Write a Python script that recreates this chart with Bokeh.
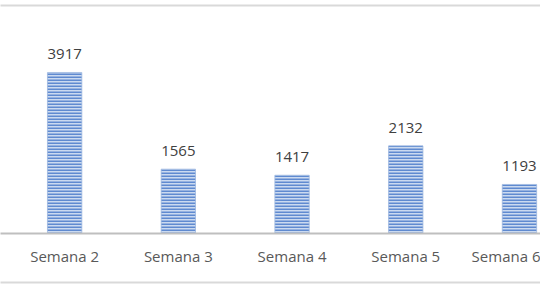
from bokeh.plotting import figure
from bokeh.models import Range1d, FixedTicker, LinearAxis, ColumnDataSource
from bokeh.core.properties import value
from bokeh.embed import file_html
from bokeh.resources import INLINE

categories = ["Semana 2", "Semana 3", "Semana 4", "Semana 5", "Semana 6"]
values = [3917, 1565, 1417, 2132, 1193]

xs = list(range(len(categories)))
src = ColumnDataSource(dict(x=xs, top=values, label=[str(v) for v in values]))

p = figure(width=540, height=287, output_backend="svg", toolbar_location=None,
           x_range=Range1d(-0.564, 4.185), y_range=Range1d(0, 5547),
           x_axis_location=None, y_axis_location=None,
           min_border_left=0, min_border_right=0, min_border_top=5, min_border_bottom=54)
p.grid.visible = False
p.outline_line_color = None
p.background_fill_color = "white"
p.border_fill_color = "white"

p.vbar(x="x", top="top", width=0.302, bottom=0, source=src,
       fill_color="#cbdaf0", line_color="#9db7e0", line_width=0.8,
       hatch_pattern="horizontal_line", hatch_color="#5f8ad0",
       hatch_scale=3, hatch_weight=2)

p.text(x="x", y="top", text="label", source=src, text_align="center",
       text_baseline="alphabetic", y_offset=-18,
       text_font=value("Open Sans"), text_font_size="15px", text_color="#404040")

# category axis
xa = LinearAxis(ticker=FixedTicker(ticks=xs),
                major_label_overrides={i: c for i, c in zip(xs, categories)})
xa.axis_line_color = "#bfbfbf"
xa.axis_line_width = 2
xa.major_tick_line_color = None
xa.minor_tick_line_color = None
xa.major_tick_out = 0
xa.major_tick_in = 0
xa.major_label_standoff = 12
xa.major_label_text_font = "Open Sans"
xa.major_label_text_font_size = "15px"
xa.major_label_text_color = "#595959"
xa.axis_label = " "
xa.axis_label_standoff = 9
xa.axis_label_text_font_size = "2px"
p.add_layout(xa, "below")

# chart border lines (top and bottom)
for side in ("above", "below"):
    ax = LinearAxis(ticker=FixedTicker(ticks=[]))
    ax.axis_line_color = "#d9d9d9"
    ax.axis_line_width = 2
    ax.major_tick_line_color = None
    ax.minor_tick_line_color = None
    ax.major_tick_out = 0
    ax.major_tick_in = 0
    ax.major_label_text_font_size = "0px"
    ax.major_label_standoff = 0
    p.add_layout(ax, side)

open("out.html", "w").write(file_html(p, INLINE))
